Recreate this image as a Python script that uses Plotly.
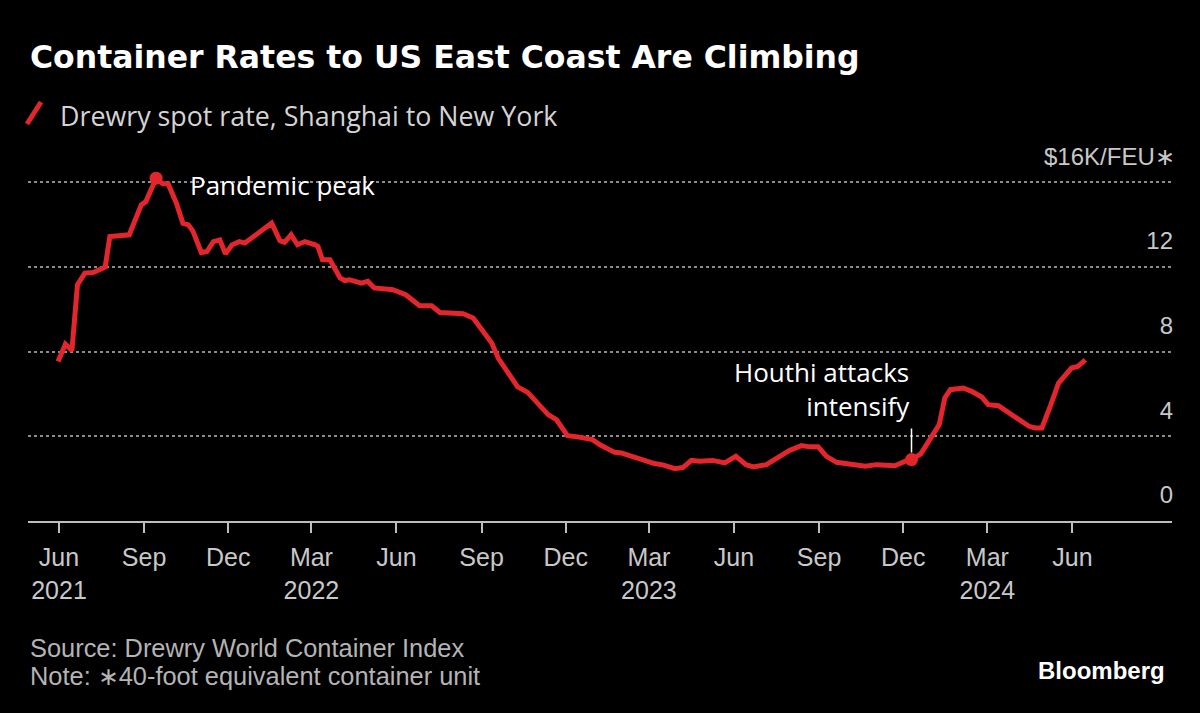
import plotly.graph_objects as go

# ---- data ($K per FEU) ----
dates = [
    "2021-05-31", "2021-06-08", "2021-06-15", "2021-06-21", "2021-06-29", "2021-07-08",
    "2021-07-21", "2021-07-26", "2021-08-16", "2021-08-29", "2021-09-03", "2021-09-14",
    "2021-09-21", "2021-09-27", "2021-10-06", "2021-10-13", "2021-10-19", "2021-10-24",
    "2021-11-02", "2021-11-08", "2021-11-15", "2021-11-22", "2021-11-28", "2021-12-05",
    "2021-12-13", "2021-12-19", "2022-01-17", "2022-01-26", "2022-01-31", "2022-02-07",
    "2022-02-14", "2022-02-22", "2022-03-05", "2022-03-08", "2022-03-13", "2022-03-21",
    "2022-04-01", "2022-04-06", "2022-04-11", "2022-04-24", "2022-05-01", "2022-05-08",
    "2022-05-28", "2022-06-11", "2022-06-26", "2022-07-09", "2022-07-18", "2022-08-12",
    "2022-08-23", "2022-09-02", "2022-09-12", "2022-09-19", "2022-09-24", "2022-10-03",
    "2022-10-10", "2022-10-21", "2022-11-01", "2022-11-12", "2022-11-21", "2022-12-03",
    "2022-12-14", "2022-12-30", "2023-01-07", "2023-01-23", "2023-01-30", "2023-02-19",
    "2023-03-07", "2023-03-16", "2023-03-29", "2023-04-07", "2023-04-16", "2023-04-25",
    "2023-05-09", "2023-05-22", "2023-06-03", "2023-06-14", "2023-06-22", "2023-07-06",
    "2023-07-18", "2023-07-31", "2023-08-13", "2023-08-22", "2023-08-31", "2023-09-09",
    "2023-09-20", "2023-10-01", "2023-10-21", "2023-11-02", "2023-11-22", "2023-12-03",
    "2023-12-10", "2023-12-20", "2024-01-02", "2024-01-09", "2024-01-15", "2024-01-21",
    "2024-02-04", "2024-02-13", "2024-02-24", "2024-03-02", "2024-03-13", "2024-03-24",
    "2024-04-04", "2024-04-15", "2024-04-22", "2024-04-29", "2024-05-08", "2024-05-17",
    "2024-05-31", "2024-06-07", "2024-06-15",
]
rates = [
    7.53, 8.35, 8.05, 11.15, 11.70, 11.73,
    11.99, 13.43, 13.51, 14.92, 15.08, 16.18,
    15.92, 15.92, 15.00, 14.06, 13.98, 13.67,
    12.67, 12.72, 13.19, 13.27, 12.61, 13.03,
    13.19, 13.12, 14.06, 13.23, 13.15, 13.51,
    13.04, 13.19, 13.04, 12.96, 12.33, 12.33,
    11.47, 11.35, 11.39, 11.23, 11.31, 11.00,
    10.92, 10.68, 10.16, 10.16, 9.84, 9.78,
    9.58, 8.98, 8.40, 7.69, 7.38, 6.83,
    6.33, 6.07, 5.57, 5.02, 4.78, 4.03,
    3.97, 3.84, 3.60, 3.24, 3.21, 2.90,
    2.71, 2.65, 2.47, 2.53, 2.86, 2.82,
    2.86, 2.74, 3.05, 2.66, 2.55, 2.66,
    2.98, 3.33, 3.56, 3.50, 3.50, 3.05,
    2.77, 2.69, 2.58, 2.66, 2.61, 2.82,
    2.90, 3.17, 4.00, 4.55, 5.81, 6.20,
    6.28, 6.12, 5.85, 5.49, 5.44, 5.10,
    4.82, 4.47, 4.39, 4.39, 5.41, 6.51,
    7.22, 7.30, 7.61,
]
peak_date = "2021-09-14"
houthi_date = "2023-12-10"

x_tick_vals = [
    "2021-06-01", "2021-09-01", "2021-12-01", "2022-03-01", "2022-06-01", "2022-09-01",
    "2022-12-01", "2023-03-01", "2023-06-01", "2023-09-01", "2023-12-01", "2024-03-01",
    "2024-06-01",
]
x_tick_text = [
    "Jun<br>2021", "Sep", "Dec", "Mar<br>2022", "Jun", "Sep",
    "Dec", "Mar<br>2023", "Jun", "Sep", "Dec", "Mar<br>2024", "Jun",
]
y_tick_vals = [0, 4, 8, 12, 16]
y_tick_text = ["0", "4", "8", "12", ""]
y_unit_label = "$16K/FEU\u2217"

RED = "#e3262b"
hi_dates = [peak_date, houthi_date]
hi_vals = [rates[dates.index(d)] for d in hi_dates]

fig = go.Figure()
fig.add_trace(go.Scatter(
    x=dates, y=rates, mode="lines",
    line=dict(color=RED, width=5), showlegend=False, hoverinfo="skip",
))
fig.add_trace(go.Scatter(
    x=hi_dates, y=hi_vals, mode="markers",
    marker=dict(color=RED, size=13), showlegend=False, hoverinfo="skip",
))

# pixel helpers for paper coordinates
L, R, T, B = 28, 28, 160, 192
W, H = 1200, 713
PW, PH = W - L - R, H - T - B
def px(xp):
    return (xp - L) / PW
def py(yp):
    return (H - B - yp) / PH

LAB = "Liberation Sans"
annotations = [
    dict(text="<b>Container Rates to US East Coast Are Climbing</b>",
         x=px(28), y=py(57), xref="paper", yref="paper", xanchor="left", yanchor="middle",
         showarrow=False, font=dict(family="DejaVu Sans", size=31.5, color="#ffffff")),
    dict(text="Drewry spot rate, Shanghai to New York",
         x=px(58), y=py(115), xref="paper", yref="paper", xanchor="left", yanchor="middle",
         showarrow=False, font=dict(family="Open Sans", size=26.8, color="#d4d4d4")),
    dict(text="Pandemic peak", x=peak_date, y=hi_vals[0], xref="x", yref="y",
         xanchor="left", yanchor="middle", xshift=32, yshift=-7, showarrow=False,
         font=dict(family="Open Sans", size=26, color="#ffffff")),
    dict(text="Houthi attacks<br>intensify", x=houthi_date, y=hi_vals[1], xref="x", yref="y",
         xanchor="right", yanchor="bottom", align="right", showarrow=True, arrowhead=0,
         arrowwidth=1.5, arrowcolor="#ffffff", ax=0, ay=-34, standoff=7, startstandoff=3,
         font=dict(family="Open Sans", size=26, color="#ffffff")),
    dict(text=y_unit_label, x=1, y=y_tick_vals[-1], xref="paper", yref="y",
         xanchor="right", yanchor="middle", yshift=26, xshift=5, showarrow=False,
         font=dict(family=LAB, size=24, color="#c8c8c8")),
    dict(text="Source: Drewry World Container Index",
         x=px(28), y=py(648), xref="paper", yref="paper", xanchor="left", yanchor="middle",
         showarrow=False, font=dict(family=LAB, size=25.4, color="#b4b4b4")),
    dict(text="Note: \u221740-foot equivalent container unit",
         x=px(28), y=py(676), xref="paper", yref="paper", xanchor="left", yanchor="middle",
         showarrow=False, font=dict(family=LAB, size=25.4, color="#b4b4b4")),
    dict(text="<b>Bloomberg</b>",
         x=px(1167), y=py(670), xref="paper", yref="paper", xanchor="right", yanchor="middle",
         showarrow=False, font=dict(family=LAB, size=24, color="#ffffff")),
]

shapes = [
    dict(type="line", xref="paper", yref="paper",
         x0=px(27), y0=py(124), x1=px(41), y1=py(102),
         line=dict(color=RED, width=5)),
]

fig.update_layout(
    width=W, height=H,
    margin=dict(l=L, r=R, t=T, b=B, pad=0),
    paper_bgcolor="#000000", plot_bgcolor="#000000",
    annotations=annotations, shapes=shapes,
    showlegend=False,
    xaxis=dict(
        type="date", range=["2021-04-28 12:00", "2024-09-16 17:00"],
        tickmode="array", tickvals=x_tick_vals, ticktext=x_tick_text,
        ticks="outside", ticklen=10, tickwidth=1.5, tickcolor="#bdbdbd",
        showline=True, linecolor="#bdbdbd", linewidth=2,
        showgrid=False, zeroline=False, ticklabelstandoff=3,
        tickfont=dict(family=LAB, size=25, color="#c8c8c8"),
    ),
    yaxis=dict(
        side="right", range=[0, 17.04],
        tickmode="array", tickvals=y_tick_vals, ticktext=y_tick_text,
        ticks="", showline=False, zeroline=False,
        showgrid=True, gridcolor="#8c8c8c", gridwidth=1.5, griddash="dot",
        ticklabelposition="inside", ticklabelshift=-26, ticklabelstandoff=-4,
        tickfont=dict(family=LAB, size=24, color="#c8c8c8"),
    ),
)

fig.write_html(
    "out.html",
    config={"displayModeBar": False},
    post_script="document.body.style.margin='0px';document.body.style.background='#000';",
)
